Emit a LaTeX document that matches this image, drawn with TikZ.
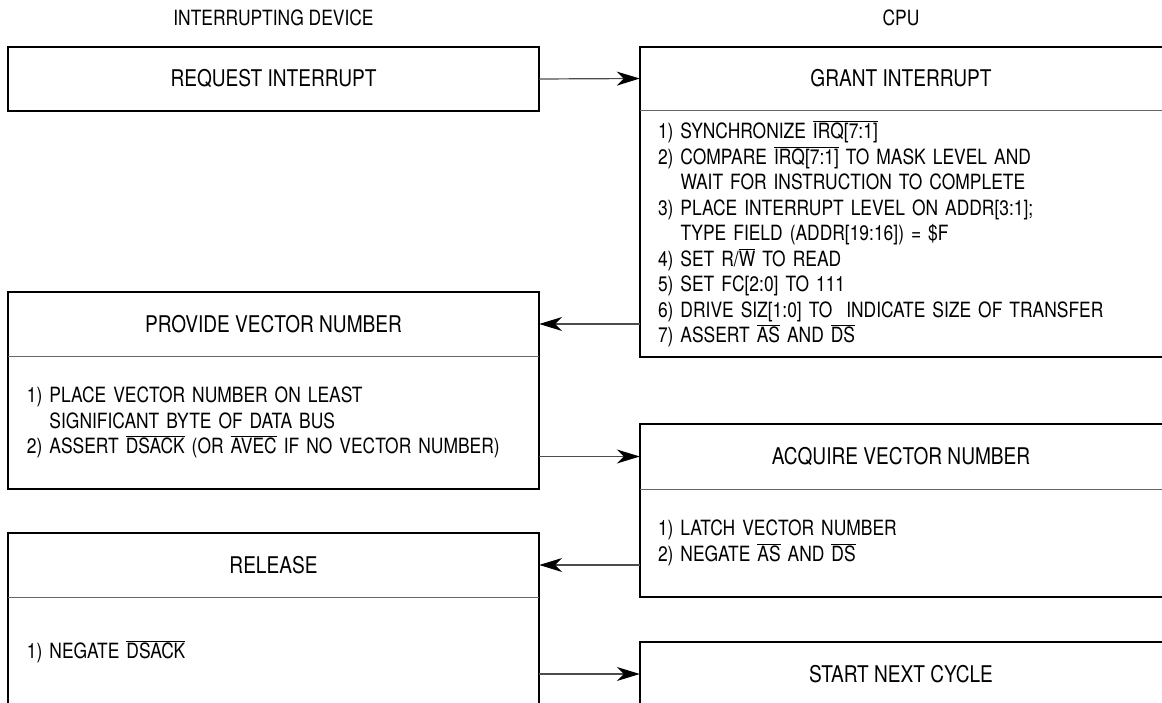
\documentclass[tikz,border=0pt]{standalone}
\usepackage{fontspec}
\setmainfont[FakeStretch=0.83]{TeX Gyre Heros}
\usetikzlibrary{arrows.meta}
\newcommand\ovl[1]{$\overline{\hbox{#1}}$}
\tikzset{
  lbl/.style={inner sep=0pt},
  hdr/.style={inner sep=0pt, minimum height=64pt, font=\fontsize{23}{27}\selectfont},
  bodybox/.style={inner sep=0pt, align=left},
  boxline/.style={draw=black, line width=2pt},
  divline/.style={draw=black!60, line width=1.2pt},
  flow/.style={draw=black!70, line width=1.2pt,
    -{Stealth[length=23pt,width=14pt,inset=7pt,color=black]}},
}
\begin{document}
\begin{tikzpicture}[x=1pt,y=-1pt,every node/.style={font=\fontsize{21}{25.5}\selectfont}]
\useasboundingbox (0,0) rectangle (1162,703);
\clip (0,0) rectangle (1162,703);
\fill[white] (0,0) rectangle (1162,703);

% column labels
\node[lbl] (devlabel) at (273.5,18) {INTERRUPTING DEVICE};
\node[lbl] (cpulabel) at (901,18) {CPU};

% REQUEST INTERRUPT
\node[hdr, minimum width=531pt] (req) at (273.5,79) {REQUEST INTERRUPT};
\draw[boxline] (req.north west) rectangle (req.south east);

% GRANT INTERRUPT
\node[hdr, minimum width=522pt, minimum height=63pt] (grant) at (901,78.5) {GRANT INTERRUPT};
\node[bodybox, minimum width=522pt, minimum height=246pt, text width=486pt] (grantbody) at (901,234) {%
1) SYNCHRONIZE \ovl{IRQ[7:1]}\\
2) COMPARE \ovl{IRQ[7:1]} TO MASK LEVEL AND\\
\hphantom{2) }WAIT FOR INSTRUCTION TO COMPLETE\\
3) PLACE INTERRUPT LEVEL ON ADDR[3:1];\\
\hphantom{3) }TYPE FIELD (ADDR[19:16]) = \$F\\
4) SET R/\ovl{W} TO READ\\
5) SET FC[2:0] TO 111\\
6) DRIVE SIZ[1:0] TO\ \ INDICATE SIZE OF TRANSFER\\
7) ASSERT \ovl{AS} AND \ovl{DS}};
\draw[boxline] (grant.north east) -- (grant.north west) -- (grantbody.south west) -- (grantbody.south east);
\draw[divline] (grant.south west) -- (grant.south east);

% PROVIDE VECTOR NUMBER
\node[hdr, minimum width=531pt] (prov) at (273.5,324) {PROVIDE VECTOR NUMBER};
\node[bodybox, minimum width=531pt, minimum height=133pt, text width=493pt] (provbody) at (273.5,422.5) {%
1) PLACE VECTOR NUMBER ON LEAST\\
\hphantom{1) }SIGNIFICANT BYTE OF DATA BUS\\
2) ASSERT \ovl{DSACK} (OR \ovl{AVEC} IF NO VECTOR NUMBER)};
\draw[boxline] (prov.north west) rectangle (provbody.south east);
\draw[divline] (prov.south west) -- (prov.south east);

% ACQUIRE VECTOR NUMBER
\node[hdr, minimum width=522pt, minimum height=65pt] (acq) at (901,456.5) {ACQUIRE VECTOR NUMBER};
\node[bodybox, minimum width=522pt, minimum height=108pt, text width=486pt] (acqbody) at (901,543) {%
1) LATCH VECTOR NUMBER\\
2) NEGATE \ovl{AS} AND \ovl{DS}};
\draw[boxline] (acq.north east) -- (acq.north west) -- (acqbody.south west) -- (acqbody.south east);
\draw[divline] (acq.south west) -- (acq.south east);

% RELEASE
\node[hdr, minimum width=531pt] (rel) at (273.5,565) {RELEASE};
\node[bodybox, minimum width=531pt, minimum height=110pt, text width=493pt] (relbody) at (273.5,652) {%
1) NEGATE \ovl{DSACK}};
\draw[boxline] (rel.north west) rectangle (relbody.south east);
\draw[divline] (rel.south west) -- (rel.south east);

% START NEXT CYCLE
\node[hdr, minimum width=522pt] (start) at (901,674) {START NEXT CYCLE};
\draw[boxline] (start.north east) -- (start.north west) -- (start.south west);

% connectors
\draw[flow] (req.east) -- (grant.west);
\draw[flow] (grantbody.west |- prov.east) -- (prov.east);
\draw[flow] (provbody.east |- acq.west) -- (acq.west);
\draw[flow] (acqbody.west |- rel.east) -- (rel.east);
\draw[flow] (relbody.east |- start.west) -- (start.west);
\end{tikzpicture}
\end{document}
